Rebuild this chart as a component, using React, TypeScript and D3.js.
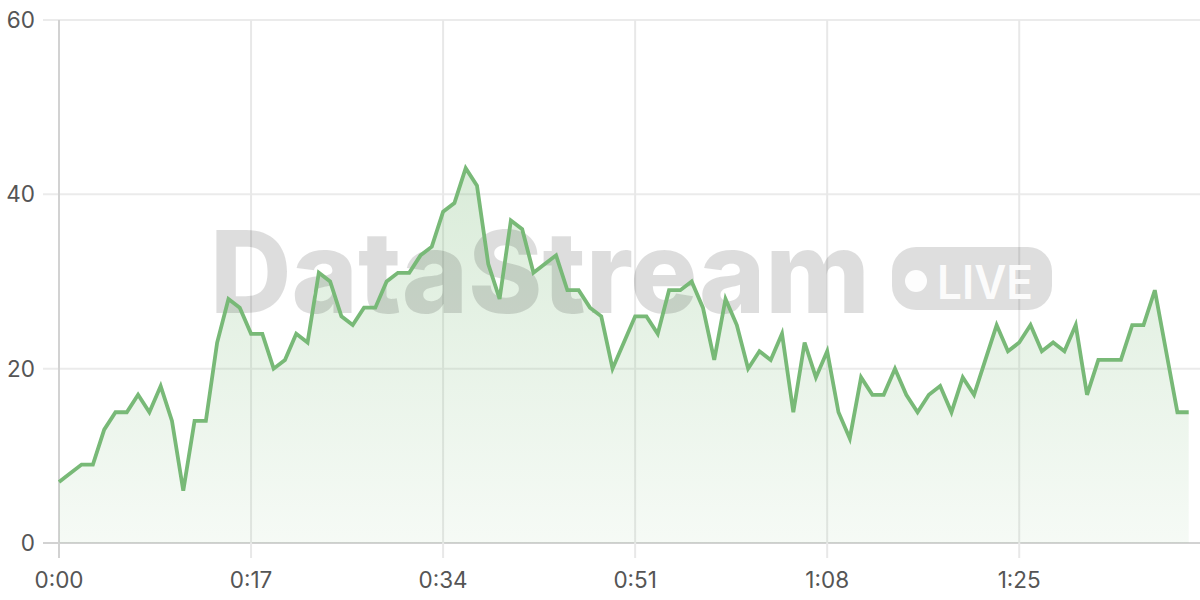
import React from "react";
import * as d3 from "d3";

const seconds: number[] = d3.range(0, 101);
const values: number[] = [
  7, 8, 9, 9, 13, 15, 15, 17, 15, 18, 14, 6, 14, 14, 23, 28, 27, 24, 24, 20,
  21, 24, 23, 31, 30, 26, 25, 27, 27, 30, 31, 31, 33, 34, 38, 39, 43, 41, 32, 28,
  37, 36, 31, 32, 33, 29, 29, 27, 26, 20, 23, 26, 26, 24, 29, 29, 30, 27, 21, 28,
  25, 20, 22, 21, 24, 15, 23, 19, 22, 15, 12, 19, 17, 17, 20, 17, 15, 17, 18, 15,
  19, 17, 21, 25, 22, 23, 25, 22, 23, 22, 25, 17, 21, 21, 21, 25, 25, 29, 22, 15, 15,
];
const xTicks: number[] = [0, 17, 34, 51, 68, 85];
const yTicks: number[] = [0, 20, 40, 60];
const watermark = "DataStream";
const badgeText = "LIVE";

const W = 1200;
const H = 600;
const M = { left: 59, right: 0, top: 20, bottom: 57 };

const fmt = (s: number) => `${Math.floor(s / 60)}:${String(s % 60).padStart(2, "0")}`;

export default function App() {
  const x = d3.scaleLinear().domain([0, 101]).range([M.left, W - M.right]);
  const y = d3.scaleLinear().domain([0, 60]).range([H - M.bottom, M.top]);
  const pts = seconds.map((s, i) => [s, values[i]] as [number, number]);
  const line = d3.line<[number, number]>().x((d) => x(d[0])).y((d) => y(d[1]))(pts) || "";
  const area =
    d3
      .area<[number, number]>()
      .x((d) => x(d[0]))
      .y0(y(0))
      .y1((d) => y(d[1]))(pts) || "";
  const font = "Inter, 'Noto Sans', sans-serif";
  return (
    <svg
      width={W}
      height={H}
      style={{ position: "absolute", left: 0, top: 0, background: "#fff" }}
    >
      <defs>
        <linearGradient id="areaGrad" gradientUnits="userSpaceOnUse" x1={0} y1={y(43)} x2={0} y2={y(0)}>
          <stop offset="0%" stopColor="#7aba78" stopOpacity={0.28} />
          <stop offset="100%" stopColor="#7aba78" stopOpacity={0.07} />
        </linearGradient>
      </defs>
      {yTicks.map((t) => (
        <line
          key={"h" + t}
          x1={M.left - 16}
          x2={W}
          y1={y(t)}
          y2={y(t)}
          stroke={t === 0 ? "#d2d2d2" : "#ebebeb"}
          strokeWidth={2}
        />
      ))}
      {xTicks.map((t) => (
        <line
          key={"v" + t}
          x1={x(t)}
          x2={x(t)}
          y1={y(60)}
          y2={y(0) + 15}
          stroke={t === 0 ? "#d2d2d2" : "#e8e8e8"}
          strokeWidth={2}
        />
      ))}
      <path d={area} fill="url(#areaGrad)" />
      <g>
        <text
          x={210}
          y={313}
          fontFamily="Inter, 'Liberation Sans', sans-serif"
          fontWeight={800}
          fontSize={114}
          textLength={660}
          lengthAdjust="spacingAndGlyphs"
          fill="#000"
          fillOpacity={0.135}
        >
          {watermark}
        </text>
        <rect x={892} y={247} width={160} height={63} rx={24} fill="#000" fillOpacity={0.13} />
        <circle cx={916} cy={281} r={11} fill="#fff" fillOpacity={0.92} />
        <text
          x={937}
          y={299}
          fontFamily="Inter, 'Liberation Sans', sans-serif"
          fontWeight={600}
          fontSize={46}
          textLength={96}
          lengthAdjust="spacingAndGlyphs"
          fill="#fff"
          fillOpacity={0.92}
        >
          {badgeText}
        </text>
      </g>
      <path d={line} fill="none" stroke="#78b977" strokeWidth={3.8} strokeLinejoin="miter" />
      {yTicks.map((t) => (
        <text
          key={"yl" + t}
          x={35}
          y={y(t)}
          dy="0.36em"
          textAnchor="end"
          fontFamily={font}
          fontSize={22.5}
          fill="#555"
        >
          {t}
        </text>
      ))}
      {xTicks.map((t) => (
        <text
          key={"xl" + t}
          x={x(t)}
          y={588}
          textAnchor="middle"
          fontFamily={font}
          fontSize={22.5}
          fill="#555"
        >
          {fmt(t)}
        </text>
      ))}
    </svg>
  );
}
